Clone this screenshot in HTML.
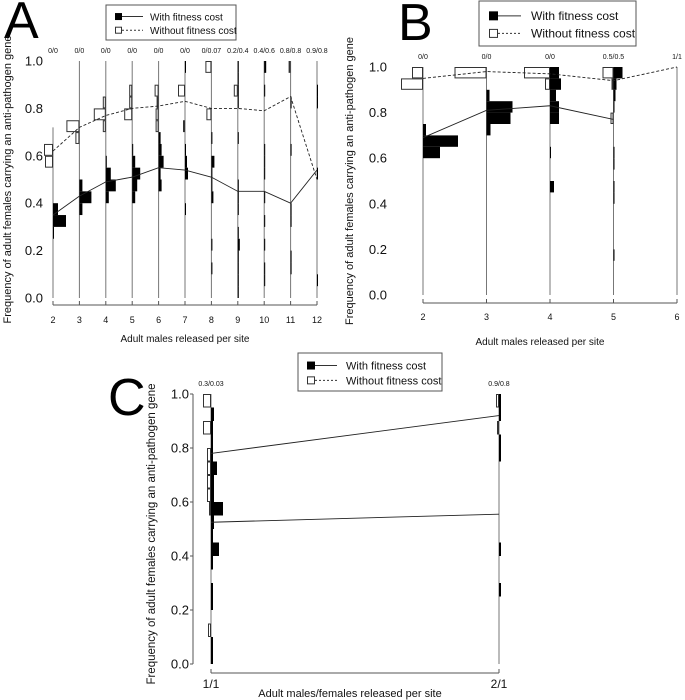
<!DOCTYPE html>
<html><head><meta charset="utf-8">
<style>
html,body{margin:0;padding:0;background:#fff;}
svg{display:block;font-family:"Liberation Sans","DejaVu Sans",sans-serif;}
</style></head>
<body>
<svg id="chart" width="685" height="700" viewBox="0 0 685 700" xmlns="http://www.w3.org/2000/svg"></svg>
<script>
// ---------- Panel A data ----------
const aCategories = ["2","3","4","5","6","7","8","9","10","11","12"];
const aTopLabels = ["0/0","0/0","0/0","0/0","0/0","0/0","0/0.07","0.2/0.4","0.4/0.6","0.8/0.8","0.9/0.8"];
const aMeanCost = [0.35,0.43,0.49,0.51,0.55,0.54,0.51,0.45,0.45,0.40,0.54];
const aMeanNoCost = [0.62,0.72,0.77,0.80,0.81,0.83,0.80,0.80,0.79,0.85,0.50];
const aHistCost = [
 [0,0,0,0,0,1,13,5,0,0,0,0,0,0,0,0,0,0,0,0],
 [0,0,0,0,0,0,0,3,12,3,0,0,0,0,0,0,0,0,0,0],
 [0,0,0,0,0,0,0,0,3,10,5,1,0,0,0,0,0,0,0,0],
 [0,0,0,0,0,0,0,0,3,5,8,3,1,0,0,0,0,0,0,0],
 [0,0,0,0,0,0,0,0,0,3,2,5,3,2,0,0,0,0,0,0],
 [0,0,0,0,0,0,0,1,0,0,3,2,1,0,0,0,0,0,0,1],
 [0,0,1,0,1,0,0,0,2,1,1,3,0,1,0,0,0,0,0,0],
 [1,1,1,1,2,1,0,1,1,1,0,0,0,1,0,0,1,1,1,1],
 [0,1,1,0,1,0,1,0,1,0,1,1,1,0,0,0,0,1,0,2],
 [0,0,1,1,0,0,1,1,0,0,0,0,1,0,0,0,1,0,0,0],
 [0,1,0,0,0,0,0,0,0,0,1,0,0,0,0,0,1,1,0,0]
];
const aHistNoCost = [
 [0,0,0,0,0,0,0,0,0,0,0,8,9,1,0,0,0,0,0,0],
 [0,0,0,0,0,0,0,0,0,0,0,0,0,4,13,0,0,0,0,0],
 [0,0,0,0,0,0,0,0,0,0,0,0,0,0,3,12,3,1,0,0],
 [0,0,0,0,0,0,0,0,0,0,0,0,0,0,1,8,3,3,0,0],
 [0,0,0,0,0,0,0,0,0,0,0,0,0,0,3,3,2,4,0,0],
 [0,0,0,0,0,0,0,0,0,0,0,0,0,0,2,0,0,7,0,0],
 [0,0,0,0,0,0,0,0,0,0,0,0,1,0,0,5,0,0,1,6],
 [0,0,0,0,0,0,0,0,0,0,0,0,0,0,0,1,0,4,1,1],
 [0,0,0,0,0,0,0,0,0,0,0,0,0,1,0,1,0,0,0,1],
 [0,0,0,0,0,0,0,0,0,0,0,0,0,0,0,0,0,0,0,2],
 [0,0,0,0,0,0,0,0,0,0,0,0,0,0,0,0,0,0,0,0]
];
// ---------- Panel B data ----------
const bCategories = ["2","3","4","5","6"];
const bTopLabels = ["0/0","0/0","0/0","0.5/0.5","1/1"];
const bMeanCost = [0.69,0.81,0.83,0.77,null];
const bMeanNoCost = [0.95,0.98,0.97,0.94,1.0];
const bHistCost = [
 [0,0,0,0,0,0,0,0,0,0,0,0,17,35,3,0,0,0,0,0],
 [0,0,0,0,0,0,0,0,0,0,0,0,0,0,4,24,26,3,0,0],
 [0,0,0,0,0,0,0,0,0,4,0,0,1,0,0,9,9,6,11,9],
 [0,0,0,1,0,0,0,0,1,1,0,1,1,0,0,0,1,2,3,9],
 [0,0,0,0,0,0,0,0,0,0,0,0,0,0,0,0,0,0,0,0]
];
const bHistNoCost = [
 [0,0,0,0,0,0,0,0,0,0,0,0,0,0,0,0,0,0,22,11],
 [0,0,0,0,0,0,0,0,0,0,0,0,0,0,0,0,0,0,0,32],
 [0,0,0,0,0,0,0,0,0,0,0,0,0,0,0,1,0,0,5,26],
 [0,0,0,0,0,0,0,0,0,0,0,0,0,0,0,3,0,0,2,11],
 [0,0,0,0,0,0,0,0,0,0,0,0,0,0,0,0,0,0,0,0]
];
// ---------- Panel C data ----------
const cCategories = ["1/1","2/1"];
const cTopLabels = ["0.3/0.03","0.9/0.8"];
const cMeanCost = [0.525,0.555];
const cMeanNoCost = [0.78,0.92];
const cHistCost = [
 [2,2,0,0,2,2,0,2,8,2,3,12,3,3,6,2,2,2,3,0],
 [0,0,0,0,0,2,0,0,2,0,0,0,0,0,0,2,2,0,2,2]
];
const cHistNoCost = [
 [0,0,3,0,0,0,0,0,0,0,0,2,4,4,4,4,0,8,0,8],
 [0,0,0,0,0,0,0,0,0,0,0,0,0,0,0,0,0,2,0,3]
];

const NS="http://www.w3.org/2000/svg";
const svg=document.getElementById('chart');
function mk(tag,attrs,parent){const e=document.createElementNS(NS,tag);for(const k in attrs)e.setAttribute(k,attrs[k]);(parent||svg).appendChild(e);return e;}
function txt(s,attrs,parent){const e=mk('text',attrs,parent);e.textContent=s;return e;}

function panel(p){
  const g=mk('g',{});
  
  
  const y=v=>p.y0+(p.y1-p.y0)*v;
  const x=i=>p.x0+i*p.dx;
  const L=txt(p.letter,{x:p.lx,y:p.ly,'font-size':p.lsize,fill:'#000'},g);
  
  
  for(let k=0;k<=5;k++){
    const v=k*0.2;
    const t=txt(v.toFixed(1),{x:p.tickX,y:y(v)+4.5,'font-size':p.tfs,'text-anchor':'end',fill:'#111'},g);
    
    
    if(p.yaxis) mk('line',{x1:p.yaxis-3,x2:p.yaxis,y1:y(v),y2:y(v),stroke:'#555','stroke-width':1},g);
  }
  if(p.yaxis){const a=mk('line',{x1:p.yaxis,x2:p.yaxis,y1:y(0),y2:y(1),stroke:'#555','stroke-width':1},g);
    }
  const ycy=p.ytc!=null?p.ytc:(y(0)+y(1))/2;
  const yt=txt('Frequency of adult females carrying an anti-pathogen gene',{x:0,y:0,'font-size':p.yfs,'text-anchor':'middle',fill:'#111',transform:`translate(${p.ytx},${ycy}) rotate(-90)`},g);
  
  
  const n=p.cats.length;
  const xa=mk('line',{x1:x(0),x2:x(n-1),y1:p.axY,y2:p.axY,stroke:'#555','stroke-width':1},g);
  
  
  const xt=txt(p.xtitle,{x:p.xtx,y:p.xty,'font-size':p.xfs,'text-anchor':'middle',fill:'#111'},g);
  
  
  for(let i=0;i<n;i++){
    mk('line',{x1:x(i),x2:x(i),y1:p.axY,y2:p.axY-4,stroke:'#555'},g);
    const tl=txt(p.cats[i],{x:x(i),y:p.axY+p.xlOff,'font-size':p.xlfs,'text-anchor':'middle',fill:'#111'},g);
    
    
    const top=txt(p.tops[i],{x:x(i),y:y(1)-8,'font-size':p.topfs,'text-anchor':'middle',fill:'#111'},g);
    
    
    const vtop=(p.vtop&&p.vtop[i]!=null)?p.vtop[i]:1;
    const vl=mk('line',{x1:x(i),x2:x(i),y1:y(0),y2:y(vtop),stroke:'#777','stroke-width':1},g);
    
    
    const bh=(p.y0-p.y1)*0.05;
    p.hc[i].forEach((c,b)=>{ if(!c) return;
      const r=mk('rect',{x:x(i),y:y((b+1)*0.05),width:c*p.sc,height:bh,fill:'#000'},g);
      
      
    });
    p.hn[i].forEach((c,b)=>{ if(!c) return;
      const r=mk('rect',{x:x(i)-c*p.sc+0.5,y:y((b+1)*0.05)+0.5,width:c*p.sc-1,height:bh-1,fill:'#fff',stroke:'#333','stroke-width':1},g);
      
      
    });
  }
  function line(arr,dash,nm){
    let d='';arr.forEach((v,i)=>{if(v==null)return;d+=(d?'L':'M')+x(i)+','+y(v);});
    const pl=mk('path',{d:d,fill:'none',stroke:'#222','stroke-width':0.9,'stroke-dasharray':dash},g);
    
    
  }
  line(p.mc,'none','mean-line-cost');
  line(p.mn,p.cDash||'3,2','mean-line-no-cost');
  const lg=mk('g',{},g);
  
  
  mk('rect',{x:p.lgx,y:p.lgy,width:p.lgw,height:p.lgh,fill:'#fff',stroke:'#555'},lg);
  const fs=p.lgfs, r1=p.lgy+p.lgh*0.33, r2=p.lgy+p.lgh*0.72;
  const mx=p.lgx+p.mOff, ms=p.ms;
  mk('rect',{x:mx,y:r1-ms/2,width:ms,height:ms,fill:'#000'},lg);
  mk('line',{x1:mx+ms,x2:mx+p.lineEnd,y1:r1,y2:r1,stroke:'#333'},lg);
  mk('rect',{x:mx+0.5,y:r2-ms/2+0.5,width:ms-1,height:ms-1,fill:'#fff',stroke:'#333'},lg);
  mk('line',{x1:mx+ms,x2:mx+p.lineEnd,y1:r2,y2:r2,stroke:'#333','stroke-dasharray':'2,2'},lg);
  const e1=txt('With fitness cost',{x:p.lgx+p.tOff,y:r1+4,'font-size':fs,fill:'#111'},lg);
  
  
  const e2=txt('Without fitness cost',{x:p.lgx+p.tOff,y:r2+4,'font-size':fs,fill:'#111'},lg);
  
  
}

panel({name:'panel-a',letter:'A',lx:4,ly:38,lsize:52,x0:53,dx:26.4,y0:298,y1:61,
  cats:aCategories,tops:aTopLabels,mc:aMeanCost,mn:aMeanNoCost,hc:aHistCost,hn:aHistNoCost,sc:1,
  vtop:[0.72],tickX:43,tfs:13,ytx:11,yfs:11,axY:305,xlOff:18,xlfs:9,topfs:7,
  xtitle:'Adult males released per site',xtx:185,xty:342,xfs:10,
  lgx:106,lgy:5,lgw:130,lgh:35,lgfs:10,mOff:9,ms:7,lineEnd:28,tOff:44});
panel({name:'panel-b',letter:'B',lx:398,ly:40,lsize:52,x0:423,dx:63.5,y0:295,y1:67,
  cats:bCategories,tops:bTopLabels,mc:bMeanCost,mn:bMeanNoCost,hc:bHistCost,hn:bHistNoCost,sc:1,
  tickX:387,tfs:13,ytx:353,yfs:11,axY:303,xlOff:17,xlfs:9,topfs:7,
  xtitle:'Adult males released per site',xtx:540,xty:345,xfs:10,
  lgx:479,lgy:1,lgw:157,lgh:45,lgfs:12,mOff:10,ms:9,lineEnd:32,tOff:52});
panel({name:'panel-c',letter:'C',lx:108,ly:415,lsize:52,x0:211,dx:288,y0:664,y1:394,
  cats:cCategories,tops:cTopLabels,mc:cMeanCost,mn:cMeanNoCost,hc:cHistCost,hn:cHistNoCost,sc:1,cDash:'none',
  yaxis:193,tickX:189,tfs:13,ytx:155,ytc:534,yfs:11.5,axY:673,xlOff:15,xlfs:12,topfs:7,
  xtitle:'Adult males/females released per site',xtx:350,xty:697,xfs:11,
  lgx:298,lgy:353,lgw:144,lgh:38,lgfs:11,mOff:9,ms:8,lineEnd:30,tOff:48});
</script>
</body></html>
